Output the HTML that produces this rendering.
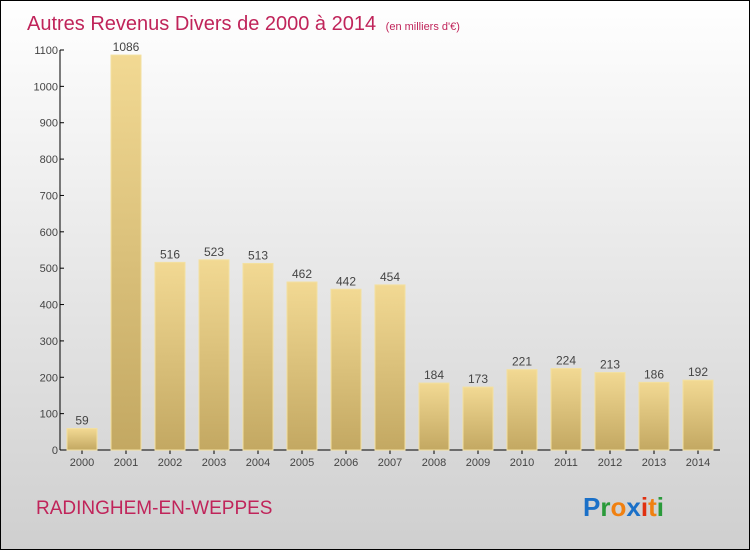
<!DOCTYPE html>
<html><head><meta charset="utf-8"><style>
body{margin:0;width:750px;height:550px;overflow:hidden;font-family:"Liberation Sans",sans-serif}
</style></head><body>
<svg id="chart" width="750" height="550" xmlns="http://www.w3.org/2000/svg">
<defs>
<linearGradient id="bg" x1="0" y1="0" x2="0" y2="1"><stop offset="0" stop-color="#ffffff"/><stop offset="1" stop-color="#cfcfcf"/></linearGradient>
<linearGradient id="bar" x1="0" y1="0" x2="0" y2="1"><stop offset="0" stop-color="#f2d993"/><stop offset="1" stop-color="#c3a862"/></linearGradient>
</defs>
<rect x="0.5" y="0.5" width="749" height="549" fill="url(#bg)" stroke="#000"/>
<text x="27" y="30" font-size="20" fill="#c0245a">Autres Revenus Divers de 2000 à 2014 <tspan font-size="11" dx="4">(en milliers d'€)</tspan></text>
<g id="axes"></g>
<g id="bars"></g>
<text x="36" y="514" font-size="19" fill="#c0245a">RADINGHEM-EN-WEPPES</text>
<text x="583" y="516" font-size="26" font-weight="bold"><tspan fill="#1a70c8">P</tspan><tspan fill="#2a9a3a">r</tspan><tspan fill="#f08010">o</tspan><tspan fill="#1a70c8">x</tspan><tspan fill="#e03010">i</tspan><tspan fill="#f08010">t</tspan><tspan fill="#2a9a3a">i</tspan></text>
</svg>
<script>
const categories=["2000","2001","2002","2003","2004","2005","2006","2007","2008","2009","2010","2011","2012","2013","2014"];
const values=[59,1086,516,523,513,462,442,454,184,173,221,224,213,186,192];
const yTicks=[0,100,200,300,400,500,600,700,800,900,1000,1100];
const NS="http://www.w3.org/2000/svg";
const y0=450,yScale=400/1100;
const y=v=>y0-v*yScale;
const x=i=>82+i*44;
const axes=document.getElementById('axes'),bars=document.getElementById('bars');
function mk(tag,attrs,parent,txt){const e=document.createElementNS(NS,tag);for(const k in attrs)e.setAttribute(k,attrs[k]);if(txt!==undefined)e.textContent=txt;parent.appendChild(e);return e;}
let l=mk('line',{x1:60,y1:y(1100),x2:60,y2:y0,stroke:'#000'},axes);


l=mk('line',{x1:60,y1:y0,x2:720,y2:y0,stroke:'#000'},axes);


yTicks.forEach(t=>{
 const tk=mk('line',{x1:60,y1:y(t),x2:64,y2:y(t),stroke:'#000'},axes);
 
 
 const tx=mk('text',{x:58,y:y(t)+4,'font-size':11,fill:'#444','text-anchor':'end'},axes,t);
 
 
});
categories.forEach((c,i)=>{
 const v=values[i];
 const r=mk('rect',{x:x(i)-15,y:y(v),width:30,height:y0-y(v),fill:'url(#bar)',stroke:'#f3e0a0','stroke-width':1},bars);
 
 
 const vl=mk('text',{x:x(i),y:y(v)-4,'font-size':12,fill:'#444','text-anchor':'middle'},bars,v);
 
 
 const tk=mk('line',{x1:x(i),y1:y0,x2:x(i),y2:y0+4,stroke:'#000'},axes);
 
 
 const xl=mk('text',{x:x(i),y:y0+16,'font-size':11,fill:'#444','text-anchor':'middle'},axes,c);
 
 
});
</script>
</body></html>
